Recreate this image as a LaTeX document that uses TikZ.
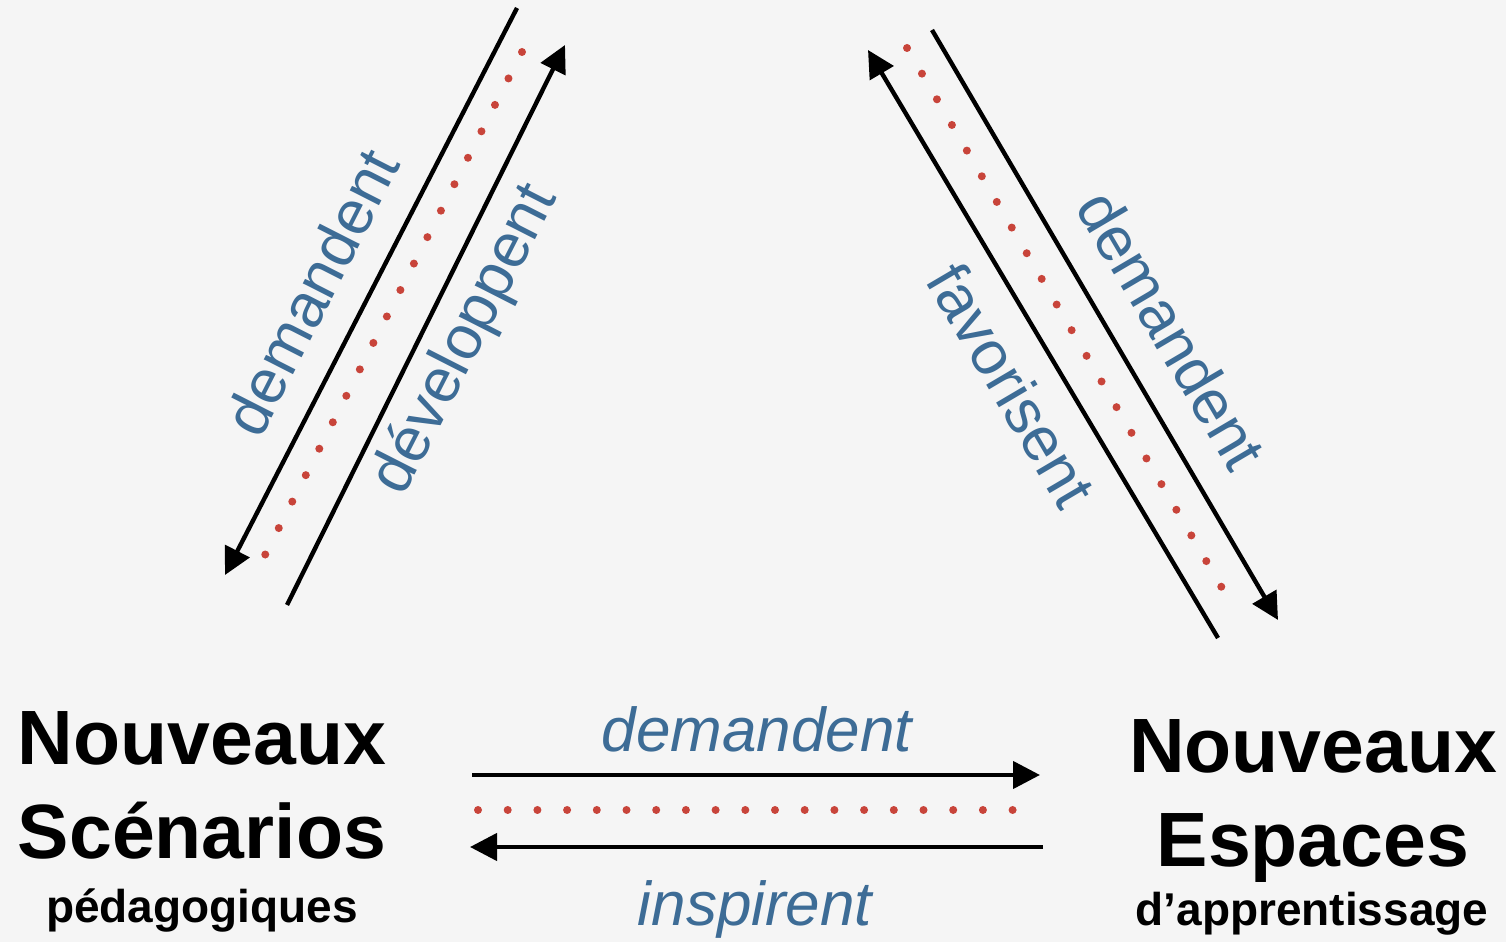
\documentclass[tikz,border=0pt]{standalone}
\usepackage{fontspec}
\setmainfont{Liberation Sans}
\usetikzlibrary{arrows.meta}
\definecolor{bg}{HTML}{F5F5F5}
\definecolor{lblue}{HTML}{3D6C96}
\definecolor{rdot}{HTML}{C8443A}
\begin{document}
\begin{tikzpicture}[x=1pt,y=1pt,
  arr/.style={line width=4.4pt, -{Triangle[length=27pt,width=27pt]}},
  dots/.style={draw=rdot, line width=8pt, line cap=round, dash pattern=on 0pt off 29.7pt},
  lbl/.style={text=lblue, font=\fontsize{62}{64}\selectfont, inner sep=0pt},
  ilbl/.style={text=lblue, font=\fontsize{62}{64}\selectfont\itshape, inner sep=0pt, anchor=base},
  big/.style={font=\fontsize{77}{80}\selectfont\bfseries, inner sep=0pt, anchor=base},
  small/.style={font=\fontsize{46}{48}\selectfont\bfseries, inner sep=0pt, anchor=base}]
\fill[bg] (0,0) rectangle (1506,942);
\useasboundingbox (0,0) rectangle (1506,942);

% left group
\coordinate (l1s) at (517,934);
\coordinate (l1e) at (225,367);
\coordinate (lds) at (522,890);
\coordinate (lde) at (265,387);
\coordinate (l2s) at (287,337);
\coordinate (l2e) at (565,897);
\draw[arr] (l1s) -- (l1e);
\draw[dots] (lds) -- (lde);
\draw[arr] (l2s) -- (l2e);
\node[lbl, rotate=63] (ldem) at (311,650) {demandent};
\node[lbl, rotate=63] (ldev) at (466,602) {développent};

% right group
\coordinate (r1s) at (1218,304);
\coordinate (r1e) at (868,892);
\coordinate (rds) at (907,894);
\coordinate (rde) at (1222,354);
\coordinate (r2s) at (932,912);
\coordinate (r2e) at (1278,322);
\draw[arr] (r1s) -- (r1e);
\draw[dots] (rds) -- (rde);
\draw[arr] (r2s) -- (r2e);
\node[lbl, rotate=-59.5] (rdem) at (1172,612) {demandent};
\node[lbl, rotate=-59.5] (rfav) at (1012,557) {favorisent};

% bottom group
\coordinate (b1s) at (472,167);
\coordinate (b1e) at (1040,167);
\coordinate (bds) at (478,132);
\coordinate (bde) at (1015,132);
\coordinate (b2s) at (1043,95);
\coordinate (b2e) at (470,95);
\draw[arr] (b1s) -- (b1e);
\draw[dots] (bds) -- (bde);
\draw[arr] (b2s) -- (b2e);
\node[ilbl] (bdem) at (757,190) {demandent};
\node[ilbl] (binsp) at (755,17) {inspirent};

% left block
\node[big] (ln1) at (202,177) {Nouveaux};
\node[big] (ln2) at (202,84) {Scénarios};
\node[small] (ln3) at (202,20) {pédagogiques};

% right block
\node[big] (rn1) at (1313,169) {Nouveaux};
\node[big] (rn2) at (1313,76) {Espaces};
\node[small] (rn3) at (1312,17) {d’apprentissage};
\end{tikzpicture}
\end{document}
